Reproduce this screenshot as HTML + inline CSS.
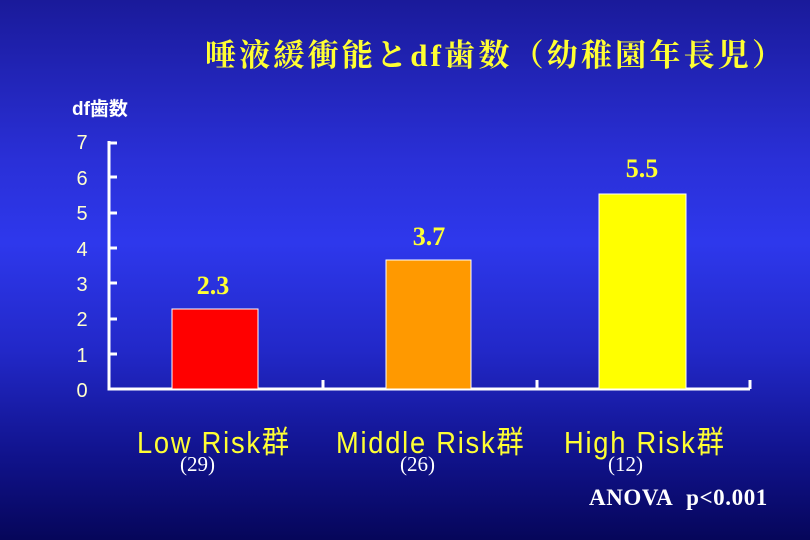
<!DOCTYPE html>
<html><head><meta charset="utf-8"><style>
body{margin:0}
#c{position:relative;width:810px;height:540px;overflow:hidden;background:linear-gradient(to bottom,#1a1a9a 0%,#2a30d8 30%,#2e38ec 45%,#2228c8 65%,#10128a 85%,#06065a 100%);font-family:"Liberation Sans","Noto Sans CJK JP",sans-serif}
.t{position:absolute;white-space:nowrap}
.y{color:#ffff33}
.lab{font-size:31px;transform:scaleX(0.88);transform-origin:0 0;top:417px;letter-spacing:2px}
</style></head><body><div id="c">
<div class="t y" style="left:205px;top:30px;font-size:31px;font-weight:bold;font-family:'Liberation Serif','Noto Serif CJK SC',serif;letter-spacing:3.2px">唾液緩衝能とdf歯数（幼稚園年長児）</div>
<div class="t" style="left:72px;top:94px;color:#fff;font-size:19px;font-weight:bold">df歯数</div>
<svg width="810" height="540" style="position:absolute;left:0;top:0">
<g fill="#ffffcc" font-family="Liberation Sans Narrow,Liberation Sans,sans-serif" font-size="20" text-anchor="middle">
<text x="82" y="397">0</text><text x="82" y="362">1</text><text x="82" y="326">2</text><text x="82" y="291">3</text><text x="82" y="256">4</text><text x="82" y="220">5</text><text x="82" y="185">6</text><text x="82" y="149">7</text>
</g>
<g stroke="#fff" stroke-width="3" fill="none">
<path d="M109 141V389H750"/>
<path d="M109 143H117M109 177H117M109 213H117M109 248H117M109 283H117M109 319H117M109 354H117"/>
<path d="M323 389V380M537 389V380M750 389V380"/>
</g>
<rect x="172" y="309" width="86" height="80" fill="#ff0000" stroke="#fff" stroke-width="1"/>
<rect x="386" y="260" width="85" height="129" fill="#ff9900" stroke="#fff" stroke-width="1"/>
<rect x="599" y="194" width="87" height="195" fill="#ffff00" stroke="#fff" stroke-width="1"/>
<g fill="#ffff33" font-family="Liberation Serif,serif" font-size="26" font-weight="bold" text-anchor="middle">
<text x="213" y="294">2.3</text><text x="429" y="245">3.7</text><text x="642" y="177">5.5</text>
</g>
</svg>
<div class="t y lab" style="left:137px">Low Risk群</div>
<div class="t y lab" style="left:336px">Middle Risk群</div>
<div class="t y lab" style="left:564px">High Risk群</div>
<div class="t" style="left:180px;top:452px;color:#fff;font-size:21px;font-family:'Liberation Serif',serif">(29)</div>
<div class="t" style="left:400px;top:452px;color:#fff;font-size:21px;font-family:'Liberation Serif',serif">(26)</div>
<div class="t" style="left:608px;top:452px;color:#fff;font-size:21px;font-family:'Liberation Serif',serif">(12)</div>
<div class="t" style="left:589px;top:485px;color:#fff;font-size:23px;font-weight:bold;font-family:'Liberation Serif',serif;letter-spacing:0.6px">ANOVA&nbsp; p&lt;0.001</div>
</div></body></html>
